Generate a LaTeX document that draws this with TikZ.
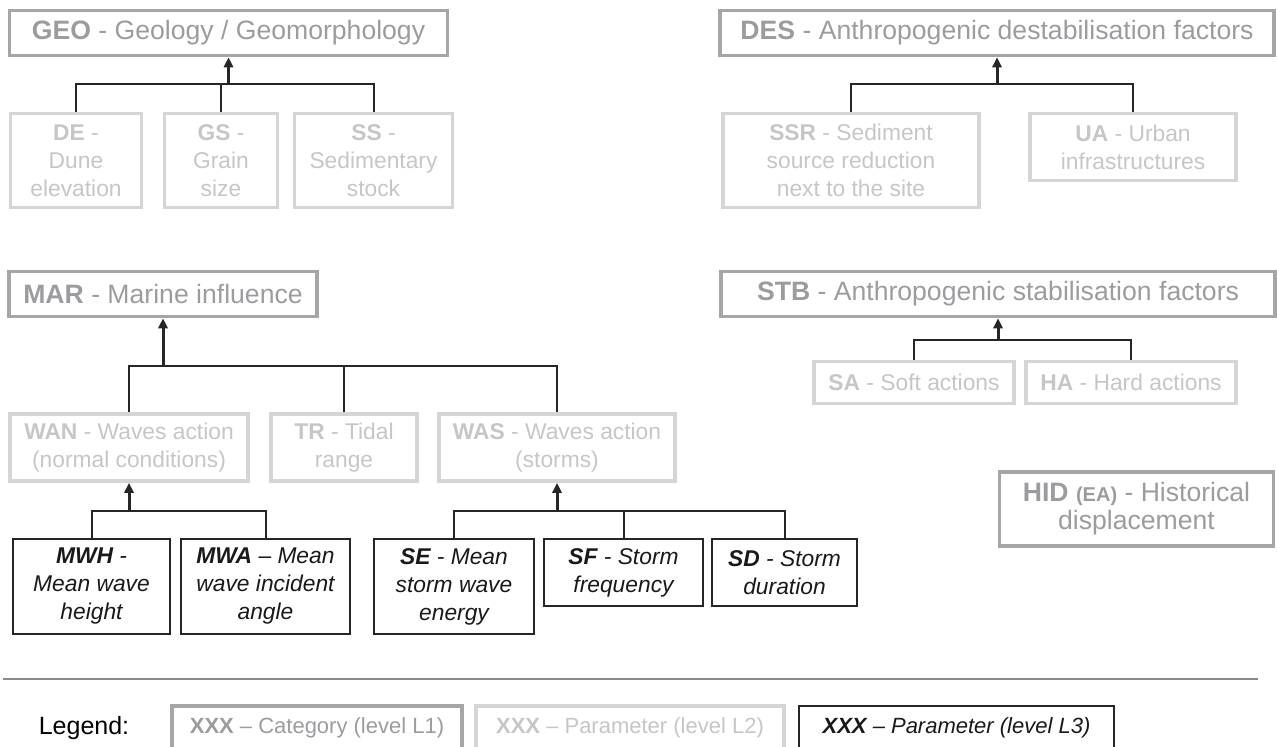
\documentclass[tikz,border=0pt]{standalone}
\usepackage{fontspec}
\setmainfont{Liberation Sans}
\usetikzlibrary{positioning,arrows.meta}

\definecolor{catgrey}{HTML}{A6A6A9}
\definecolor{cattext}{HTML}{9C9CA0}
\definecolor{pargrey}{HTML}{D5D5D5}
\definecolor{partext}{HTML}{C6C6C6}
\definecolor{rulegrey}{HTML}{8A8A8C}

\begin{document}
\begin{tikzpicture}[
    x=0.5pt, y=-0.5pt,
    font=\fontsize{13.3}{14}\selectfont,
    cat/.style={rectangle, draw=catgrey, line width=1.75pt, text=cattext, align=center, inner sep=0pt},
    param/.style={rectangle, draw=pargrey, line width=1.75pt, text=partext, align=center, inner sep=0pt, font=\fontsize{11.4}{14}\selectfont},
    sub/.style={rectangle, draw=black!85, line width=1.4pt, text=black!90, align=center, inner sep=0pt, font=\fontsize{11.4}{14}\selectfont\itshape},
    link/.style={line width=1pt, black!85},
    arrow/.style={-{Triangle[length=5pt, width=4.5pt]}, line width=1.5pt, black!85},
    legtext/.style={font=\fontsize{11}{13}\selectfont, minimum height=22pt}
]
\useasboundingbox (0,0) rectangle (1277,746);

% Categories (L1)
\node[cat, minimum width=219pt, minimum height=22.5pt] (geo) at (228.5,33) {\textbf{GEO} - Geology / Geomorphology};
\node[cat, minimum width=277pt, minimum height=22.5pt] (des) at (997,33) {\textbf{DES} - Anthropogenic destabilisation factors};
\node[cat, minimum width=154pt, minimum height=22.5pt] (mar) at (163,294) {\textbf{MAR} - Marine influence};
\node[cat, minimum width=277pt, minimum height=22.5pt] (stb) at (998,294) {\textbf{STB} - Anthropogenic stabilisation factors};
\node[cat, minimum width=137pt, minimum height=37pt] (hid) at (1136.5,509) {\textbf{HID} {\fontsize{10}{12}\selectfont\textbf{(EA)}} - Historical\\displacement};

% Parameters (L2)
\node[param, minimum width=65.5pt, minimum height=47pt] (de) at (76,160.5) {\textbf{DE} -\\Dune\\elevation};
\node[param, minimum width=56.5pt, minimum height=47pt] (gs) at (221,160.5) {\textbf{GS} -\\Grain\\size};
\node[param, minimum width=79pt, minimum height=47pt] (ss) at (373.5,160.5) {\textbf{SS} -\\Sedimentary\\stock};
\node[param, minimum width=128pt, minimum height=47pt] (ssr) at (851,160.5) {\textbf{SSR} - Sediment\\source reduction\\next to the site};
\node[param, minimum width=103pt, minimum height=33.5pt] (ua) at (1133,147) {\textbf{UA} - Urban\\infrastructures};
\node[param, minimum width=119pt, minimum height=33.5pt] (wan) at (129,447.5) {\textbf{WAN} - Waves action\\(normal conditions)};
\node[param, minimum width=73pt, minimum height=33.5pt] (tr) at (344,447.5) {\textbf{TR} - Tidal\\range};
\node[param, minimum width=118pt, minimum height=33.5pt] (was) at (557,447.5) {\textbf{WAS} - Waves action\\(storms)};
\node[param, minimum width=100pt, minimum height=21pt] (sa) at (914,382.5) {\textbf{SA} - Soft actions};
\node[param, minimum width=105pt, minimum height=21pt] (ha) at (1131,382.5) {\textbf{HA} - Hard actions};

% Parameters (L3)
\node[sub, minimum width=78.5pt, minimum height=47.5pt] (mwh) at (91.5,586.5) {\textbf{MWH} -\\Mean wave\\height};
\node[sub, minimum width=84.5pt, minimum height=47.5pt] (mwa) at (265.5,586.5) {\textbf{MWA} -- Mean\\wave incident\\angle};
\node[sub, minimum width=80pt, minimum height=47.5pt] (se) at (454,586.5) {\textbf{SE} - Mean\\storm wave\\energy};
\node[sub, minimum width=79.5pt, minimum height=33.5pt] (sf) at (623.5,572.5) {\textbf{SF} - Storm\\frequency};
\node[sub, minimum width=72.5pt, minimum height=33.5pt] (sd) at (784.5,572.5) {\textbf{SD} - Storm\\duration};

% Junctions
\coordinate[below=13.5pt of geo] (geoj);
\coordinate[below=13.5pt of des] (desj);
\coordinate[below=24pt of mar] (marj);
\coordinate[below=11pt of stb] (stbj);
\coordinate[below=14pt of wan] (wanj);
\coordinate[below=14pt of was] (wasj);

% Connectors
\draw[arrow] (geoj) -- (geo.south);
\draw[link] (de) |- (geoj) -| (ss);
\draw[link] (gs) -- (gs |- geoj);

\draw[arrow] (desj) -- (des.south);
\draw[link] (ssr) |- (desj) -| (ua);

\draw[arrow] (marj) -- (mar.south);
\draw[link] (wan) |- (marj) -| (was);
\draw[link] (tr) -- (tr |- marj);

\draw[arrow] (stbj) -- (stb.south);
\draw[link] (sa) |- (stbj) -| (ha);

\draw[arrow] (wanj) -- (wan.south);
\draw[link] (mwh) |- (wanj) -| (mwa);

\draw[arrow] (wasj) -- (was.south);
\draw[link] (se) |- (wasj) -| (sd);
\draw[link] (sf) -- (sf |- wasj);

% Legend
\coordinate (rulel) at (3,679);
\coordinate (ruler) at (1258,679);
\draw[line width=1pt, rulegrey] (rulel) -- (ruler);
\node[font=\fontsize{12.5}{14}\selectfont] (legend) at (84,728) {Legend:};
\node[cat, legtext, minimum width=145pt] (legcat) at (317,728) {\textbf{XXX} -- Category (level L1)};
\node[param, legtext, minimum width=154pt] (legpar) at (630,728) {\textbf{XXX} -- Parameter (level L2)};
\node[sub, legtext, font=\fontsize{11}{13}\selectfont\itshape, minimum width=157.5pt] (legsub) at (956.5,728) {\textbf{XXX} -- Parameter (level L3)};

\end{tikzpicture}
\end{document}
